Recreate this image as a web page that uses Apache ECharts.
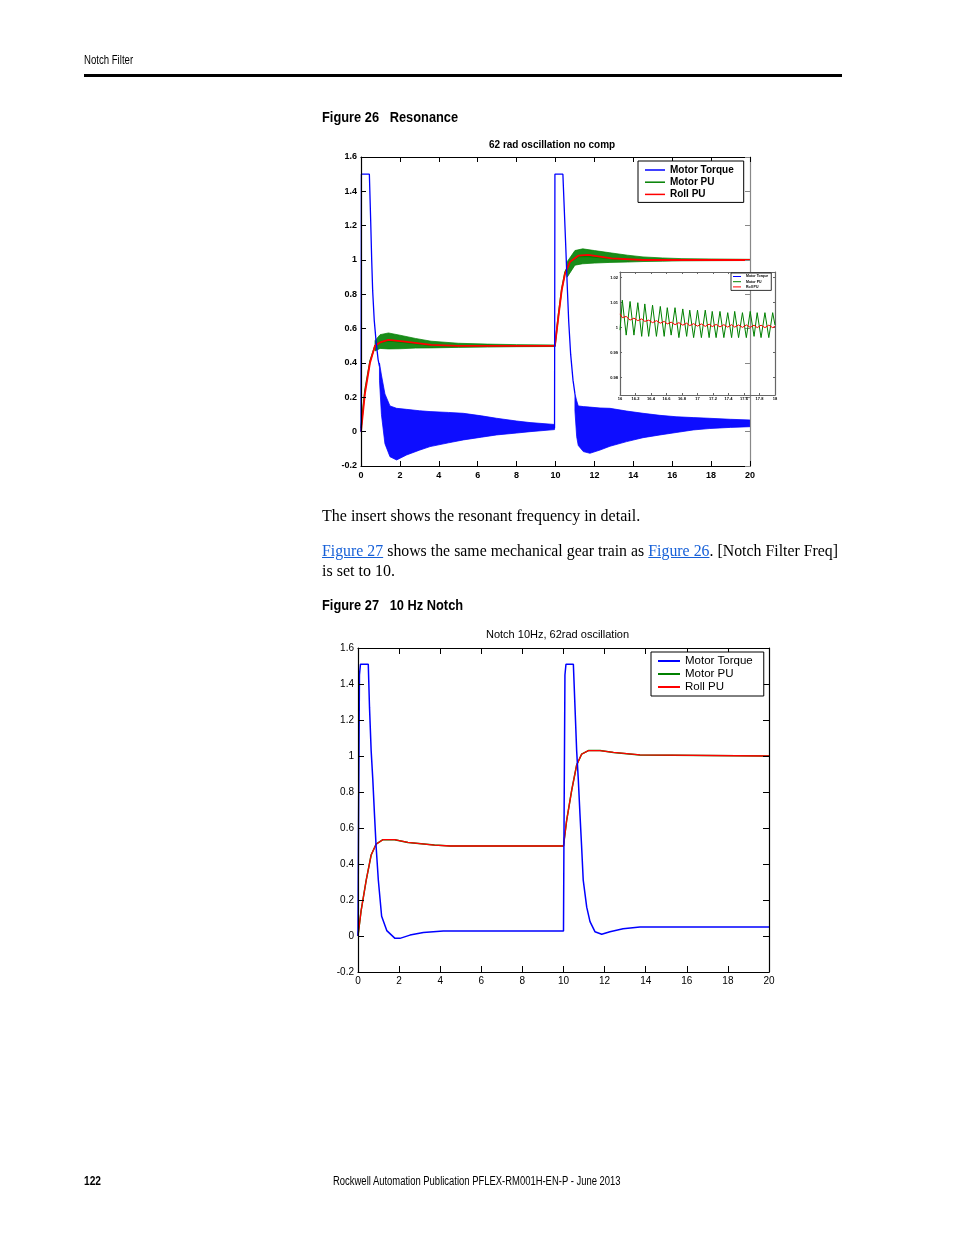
<!DOCTYPE html>
<html><head><meta charset="utf-8">
<script src="https://cdn.jsdelivr.net/npm/echarts@6/dist/echarts.min.js"></script>
<style>
html,body{margin:0;padding:0;background:#fff;}
#page{position:relative;width:954px;height:1235px;overflow:hidden;background:#fff;}
#chart{position:absolute;left:0;top:0;width:954px;height:1235px;}
.t{position:absolute;white-space:nowrap;color:#000;line-height:1;}
.narrow{font-family:"Liberation Sans Narrow","Liberation Sans",Arial,sans-serif;transform-origin:left center;}
.serif{font-family:"Liberation Serif","DejaVu Serif",serif;}
a{color:#1660d8;text-decoration:underline;}
</style></head><body>
<div id="page">
<div id="chart"></div>
<div class="t narrow" style="left:84px;top:54px;font-size:12px;transform:scaleX(0.8);">Notch Filter</div>
<div style="position:absolute;left:84px;top:74px;width:758px;height:3px;background:#000;"></div>
<div class="t narrow" style="left:322px;top:109px;font-size:15px;font-weight:bold;transform:scaleX(0.855);">Figure 26&nbsp;&nbsp;&nbsp;Resonance</div>
<div class="t serif" style="left:322px;top:508px;font-size:16px;">The insert shows the resonant frequency in detail.</div>
<div class="t serif" style="left:322px;top:543px;font-size:15.8px;width:516px;text-align:justify;text-align-last:justify;white-space:normal;"><a>Figure 27</a> shows the same mechanical gear train as <a>Figure 26</a>. [Notch Filter Freq]</div>
<div class="t serif" style="left:322px;top:563px;font-size:16px;">is set to 10.</div>
<div class="t narrow" style="left:322px;top:597px;font-size:15px;font-weight:bold;transform:scaleX(0.855);">Figure 27&nbsp;&nbsp;&nbsp;10 Hz Notch</div>
<div class="t narrow" style="left:84px;top:1175px;font-size:12px;font-weight:bold;transform:scaleX(0.85);">122</div>
<div class="t narrow" style="left:0;top:1175px;width:954px;text-align:center;font-size:12px;transform:scaleX(0.787);transform-origin:476px center;">Rockwell Automation Publication PFLEX-RM001H-EN-P - June 2013</div>
</div>
<script>
// ---------- Figure 26 : 62 rad oscillation no comp ----------
// Motor Torque: clean pulse segments (t, value)
const tq26a_t = [0, 0.02, 0.43, 0.5, 0.55, 0.6, 0.68, 0.78, 0.88, 0.95];
const tq26a_v = [0, 1.5, 1.5, 1.22, 1.0, 0.82, 0.65, 0.52, 0.42, 0.38];
const tq26b_t = [9.95, 9.97, 10.38, 10.45, 10.52, 10.6, 10.68, 10.78, 10.9, 11.0];
const tq26b_v = [0.02, 1.5, 1.5, 1.3, 1.1, 0.86, 0.64, 0.45, 0.3, 0.22];
// Motor Torque oscillation envelopes
const tqBand1_t  = [0.95, 1.05, 1.23, 1.49, 1.83, 2.34, 3.0, 3.55, 4.5, 5.26, 6.2, 6.97, 8.0, 8.69, 9.95];
const tqBand1_hi = [0.40, 0.33, 0.22, 0.15, 0.136, 0.13, 0.122, 0.117, 0.112, 0.107, 0.092, 0.078, 0.062, 0.053, 0.042];
const tqBand1_lo = [0.30, 0.10, -0.07, -0.146, -0.165, -0.136, -0.108, -0.087, -0.065, -0.048, -0.032, -0.019, -0.008, 0.0, 0.012];
const tqBand2_t  = [11.0, 11.09, 11.17, 11.43, 11.77, 12.29, 12.8, 13.66, 14.5, 15.37, 16.2, 17.08, 17.9, 19.0, 20];
const tqBand2_hi = [0.22, 0.18, 0.15, 0.146, 0.143, 0.138, 0.136, 0.12, 0.107, 0.095, 0.087, 0.082, 0.078, 0.072, 0.068];
const tqBand2_lo = [0.12, -0.03, -0.08, -0.116, -0.126, -0.107, -0.085, -0.058, -0.035, -0.019, -0.005, 0.01, 0.018, 0.025, 0.029];
// Motor PU / Roll PU
const pu26_t = [0, 0.2, 0.46, 0.72, 0.98, 1.41, 2.26, 3.6, 5, 9.97, 10.15, 10.32, 10.49, 10.75, 11.17, 11.68, 12.88, 14.5, 20];
const mp26_v = [0.02, 0.24, 0.41, 0.5, 0.52, 0.53, 0.52, 0.503, 0.498, 0.497, 0.68, 0.83, 0.93, 0.99, 1.02, 1.02, 1.008, 1.0, 1.0];
const rr26_v = [0, 0.22, 0.4, 0.5, 0.52, 0.535, 0.524, 0.505, 0.5, 0.5, 0.67, 0.825, 0.92, 0.99, 1.025, 1.03, 1.01, 1.0, 1.0];
// Motor PU oscillation envelopes
const mpBand1_t  = [0.72, 0.98, 1.41, 2.0, 2.8, 3.6, 5.0, 6.5, 8.0, 9.95];
const mpBand1_hi = [0.53, 0.565, 0.575, 0.562, 0.543, 0.527, 0.515, 0.51, 0.507, 0.505];
const mpBand1_lo = [0.47, 0.485, 0.482, 0.483, 0.487, 0.488, 0.491, 0.493, 0.495, 0.496];
const mpBand2_t  = [10.6, 11.0, 11.4, 12.0, 12.8, 13.7, 14.5, 15.5, 16.5, 18, 20];
const mpBand2_hi = [0.99, 1.055, 1.065, 1.055, 1.042, 1.028, 1.018, 1.012, 1.008, 1.006, 1.004];
const mpBand2_lo = [0.90, 0.97, 0.978, 0.982, 0.986, 0.988, 0.991, 0.993, 0.995, 0.996, 0.997];
// Inset (detail 16..18 s)
const inset_t = [16.00,16.03,16.08,16.13,16.18,16.23,16.28,16.32,16.37,16.42,
                 16.47,16.52,16.57,16.61,16.66,16.71,16.76,16.81,16.86,16.90,
                 16.95,17.00,17.05,17.10,17.15,17.19,17.24,17.29,17.34,17.39,
                 17.44,17.48,17.53,17.58,17.63,17.68,17.73,17.77,17.82,17.87,
                 17.92,17.97,18.00];
const insetMp_v = [0.999,1.011,0.997,1.0105,0.997,1.010,0.9965,1.0095,0.9965,1.009,
                   0.9965,1.0085,0.9965,1.008,0.997,1.008,0.996,1.0075,0.9965,1.007,
                   0.996,1.007,0.996,1.007,0.996,1.0065,0.996,1.0065,0.996,1.006,
                   0.996,1.0065,0.996,1.006,0.996,1.0065,0.9965,1.006,0.996,1.006,
                   0.996,1.006,1.001];
const insetRr_v = [1.0055,1.004,1.0045,1.003,1.0038,1.0028,1.0035,1.0025,1.003,1.002,
                   1.0028,1.0018,1.0025,1.0015,1.0022,1.0012,1.002,1.001,1.0018,1.0008,
                   1.0016,1.0006,1.0015,1.0005,1.0014,1.0004,1.0013,1.0003,1.0012,1.0002,
                   1.0012,1.0002,1.0011,1.0001,1.0011,1.0001,1.001,1.0,1.001,1.0,
                   1.001,1.0,1.0005];
const insetYTicks = [0.98, 0.99, 1, 1.01, 1.02];

// ---------- Figure 27 : Notch 10Hz, 62rad oscillation ----------
const tq27_t = [0,0.02,0.07,0.12,0.5,0.56,0.64,0.72,0.8,0.88,0.99,1.15,1.4,1.8,2.04,2.53,3.18,4.15,10.0,10.02,
                10.07,10.12,10.48,10.56,10.64,10.72,10.8,10.88,10.96,11.13,11.29,11.53,11.86,12.26,12.9,13.72,20];
const tq27_v = [0,0.49,1.45,1.51,1.51,1.27,1.03,0.87,0.68,0.5,0.31,0.11,0.03,-0.013,-0.013,0.005,0.02,0.028,0.028,0.5,
                1.45,1.51,1.51,1.27,1.03,0.87,0.68,0.5,0.31,0.16,0.08,0.024,0.01,0.024,0.04,0.05,0.05];
const pu27_t = [0,0.15,0.4,0.64,0.88,1.21,1.78,2.43,3.72,4.5,10.0,10.15,10.4,10.64,10.88,11.21,11.78,12.43,13.72,20];
const rr27_v = [0,0.14,0.31,0.45,0.51,0.535,0.535,0.52,0.505,0.5,0.5,0.64,0.81,0.95,1.01,1.03,1.03,1.02,1.006,1.0];
const mp27_v = [0,0.14,0.31,0.45,0.51,0.535,0.535,0.52,0.505,0.5,0.5,0.64,0.81,0.95,1.01,1.03,1.03,1.02,1.006,1.0]; // hidden under Roll PU

const xTicks = {min: 0, max: 20, interval: 2};
const yTicks = {min: -0.2, max: 1.6, interval: 0.2};
const legendNames = ['Motor Torque', 'Motor PU', 'Roll PU'];

// ---------- build ----------
const FONT = '"Liberation Sans", Arial, sans-serif';
const BLUE = '#0000ff', GREEN = '#008000', RED = '#ff0000';
const zip = (t, v) => t.map((x, i) => [x, v[i]]);

function line(name, t, v, color, width, xi, yi, z) {
  return {name, type: 'line', xAxisIndex: xi, yAxisIndex: yi, data: zip(t, v), symbol: 'none', showSymbol: false,
    lineStyle: {color, width}, itemStyle: {color}, z: z || 2, animation: false, silent: true};
}
function band(name, t, lo, hi, color, xi, yi, z, op) {
  return {name, type: 'custom', xAxisIndex: xi, yAxisIndex: yi, data: [[t[0], lo[0]]], clip: true, z: z || 2, silent: true,
    encode: {x: 0, y: 1}, animation: false,
    renderItem: function (params, api) {
      const pts = [];
      for (let i = 0; i < t.length; i++) pts.push(api.coord([t[i], hi[i]]));
      for (let i = t.length - 1; i >= 0; i--) pts.push(api.coord([t[i], lo[i]]));
      return {type: 'polygon', shape: {points: pts}, style: {fill: color, stroke: color, lineWidth: 0.8, opacity: op || 1}};
    }};
}
function xPair(gi, sc, lab, lineColor, tickLen, topColor) {
  return [
    Object.assign({gridIndex: gi, type: 'value', position: 'bottom', z: 6,
      axisLine: {onZero: false, lineStyle: {color: lineColor, width: 1.2}},
      axisTick: {inside: true, length: tickLen, lineStyle: {color: lineColor}},
      axisLabel: Object.assign({color: '#000', fontFamily: FONT, showMinLabel: true, showMaxLabel: true}, lab),
      splitLine: {show: false}}, sc),
    Object.assign({gridIndex: gi, type: 'value', position: 'top', z: 6,
      axisLine: {onZero: false, lineStyle: {color: topColor || lineColor, width: 1.2}},
      axisTick: {inside: true, length: tickLen, lineStyle: {color: topColor || lineColor}},
      axisLabel: {show: false}, splitLine: {show: false}}, sc)
  ];
}
function yPair(gi, sc, lab, lineColor, tickLen, rightColor, extraTick) {
  return [
    Object.assign({gridIndex: gi, type: 'value', position: 'left', z: 6,
      axisLine: {onZero: false, lineStyle: {color: lineColor, width: 1.2}},
      axisTick: Object.assign({inside: true, length: tickLen, lineStyle: {color: lineColor}}, extraTick || {}),
      axisLabel: Object.assign({color: '#000', fontFamily: FONT, showMinLabel: true, showMaxLabel: true}, lab),
      splitLine: {show: false}}, sc),
    Object.assign({gridIndex: gi, type: 'value', position: 'right', z: 6,
      axisLine: {onZero: false, lineStyle: {color: rightColor || lineColor, width: 1.2}},
      axisTick: Object.assign({inside: true, length: tickLen, lineStyle: {color: rightColor || lineColor}}, extraTick || {}),
      axisLabel: {show: false}, splitLine: {show: false}}, sc)
  ];
}

const xAxis = [].concat(
  xPair(0, xTicks, {fontSize: 9, fontWeight: 'bold', margin: 5}, '#000', 5),
  xPair(1, {min: 16, max: 18, interval: 0.2}, {fontSize: 4, fontWeight: 'bold', margin: 2}, '#666', 2),
  xPair(2, xTicks, {fontSize: 10, margin: 4}, '#000', 6)
);
const yAxis = [].concat(
  yPair(0, yTicks, {fontSize: 9, fontWeight: 'bold', margin: 4}, '#000', 5, '#888'),
  yPair(1, {min: 0.973, max: 1.0223}, {fontSize: 4, fontWeight: 'bold', margin: 2, customValues: insetYTicks}, '#666', 2, '#666', {customValues: insetYTicks}),
  yPair(2, yTicks, {fontSize: 10, margin: 4}, '#000', 6)
);

const series = [
  // Figure 26
  band('MP band 1', mpBand1_t, mpBand1_lo, mpBand1_hi, GREEN, 0, 0, 2, 0.9),
  band('MP band 2', mpBand2_t, mpBand2_lo, mpBand2_hi, GREEN, 0, 0, 2, 0.9),
  line('Motor PU', pu26_t, mp26_v, GREEN, 1.5, 0, 0, 3),
  line('Roll PU', pu26_t, rr26_v, RED, 1.8, 0, 0, 4),
  band('TQ band 1', tqBand1_t, tqBand1_lo, tqBand1_hi, BLUE, 0, 0, 5, 0.95),
  band('TQ band 2', tqBand2_t, tqBand2_lo, tqBand2_hi, BLUE, 0, 0, 5, 0.95),
  line('Motor Torque', tq26a_t, tq26a_v, BLUE, 1.3, 0, 0, 5),
  line('Motor Torque pulse 2', tq26b_t, tq26b_v, BLUE, 1.3, 0, 0, 5),
  // Inset
  line('Inset Motor PU', inset_t, insetMp_v, GREEN, 1, 2, 2, 6),
  line('Inset Roll PU', inset_t, insetRr_v, RED, 1, 2, 2, 7),
  // Figure 27
  line('Motor PU', pu27_t, mp27_v, GREEN, 1.5, 4, 4, 3),
  line('Roll PU', pu27_t, rr27_v, RED, 1.3, 4, 4, 4),
  line('Motor Torque', tq27_t, tq27_v, BLUE, 1.5, 4, 4, 5)
];

const chart = echarts.init(document.getElementById('chart'), null, {renderer: 'canvas', width: 954, height: 1235});
chart.setOption({
  animation: false,
  backgroundColor: 'transparent',
  title: [
    {text: '62 rad oscillation no comp', left: 489, top: 140, padding: 0,
      textStyle: {fontFamily: FONT, fontSize: 10, fontWeight: 'bold', color: '#000'}},
    {text: 'Notch 10Hz, 62rad oscillation', left: 486, top: 629, padding: 0,
      textStyle: {fontFamily: FONT, fontSize: 11, fontWeight: 'normal', color: '#000'}}
  ],
  grid: [
    {left: 361, top: 157, width: 389, height: 309, containLabel: false},
    {left: 620, top: 272, width: 155, height: 123, show: true, backgroundColor: '#fff', borderWidth: 0},
    {left: 358, top: 648, width: 411, height: 324}
  ],
  legend: [
    {left: 638, top: 161, orient: 'vertical', data: legendNames, icon: 'rect', itemWidth: 20, itemHeight: 1.5, z: 20,
      itemGap: 2.2, padding: [4, 10, 3, 7], borderColor: '#000', borderWidth: 1, backgroundColor: '#fff', selectedMode: false,
      textStyle: {fontFamily: FONT, fontSize: 10, fontWeight: 'bold', color: '#000'}},
    {left: 731, top: 273, orient: 'vertical', data: legendNames, icon: 'rect', itemWidth: 8, itemHeight: 1, z: 20,
      itemGap: 1.2, padding: [1.5, 3, 1.5, 2], borderColor: '#000', borderWidth: 0.8, backgroundColor: '#fff', selectedMode: false,
      textStyle: {fontFamily: FONT, fontSize: 3.5, fontWeight: 'bold', color: '#000'}},
    {left: 651, top: 652, orient: 'vertical', data: legendNames, icon: 'rect', itemWidth: 22, itemHeight: 2, z: 20,
      itemGap: 1.0, padding: [3, 11, 3, 7], borderColor: '#000', borderWidth: 1, backgroundColor: '#fff', selectedMode: false,
      textStyle: {fontFamily: FONT, fontSize: 11.5, color: '#000'}}
  ],
  xAxis, yAxis, series
});
</script>
</body></html>
